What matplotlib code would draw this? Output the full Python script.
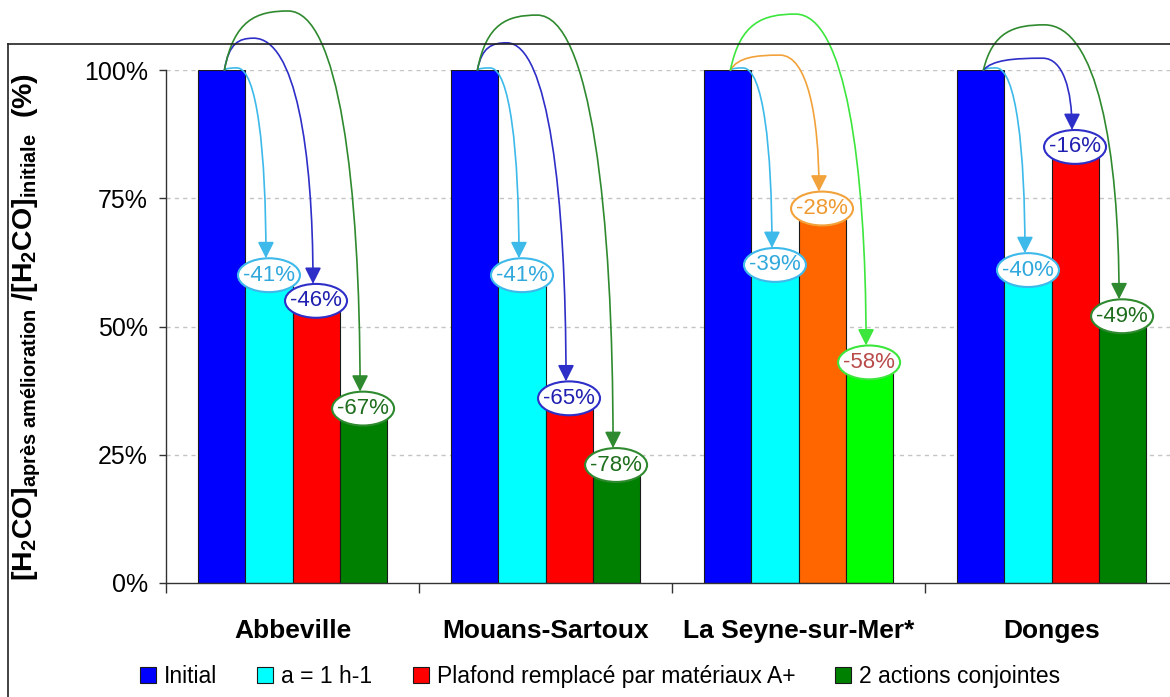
import matplotlib
matplotlib.use("Agg")
import matplotlib.pyplot as plt
from matplotlib.patches import Ellipse, FancyArrowPatch, Patch
from matplotlib.path import Path
from matplotlib.lines import Line2D
import numpy as np

plt.rcParams['font.family'] = ['Liberation Sans', 'DejaVu Sans']
plt.rcParams['mathtext.fontset'] = 'custom'
plt.rcParams['mathtext.rm'] = 'Liberation Sans'
plt.rcParams['mathtext.bf'] = 'Liberation Sans:bold'
plt.rcParams['mathtext.it'] = 'Liberation Sans:italic'

# ---- data -------------------------------------------------------------
sites = ['Abbeville', 'Mouans-Sartoux', 'La Seyne-sur-Mer*', 'Donges']
series_names = ['Initial', 'a = 1 h-1',
                'Plafond remplacé par matériaux A+', '2 actions conjointes']
initial = [100, 100, 100, 100]
change_ventilation = [-41, -41, -39, -40]   # % vs initial
change_plafond = [-46, -65, -28, -16]       # % vs initial
change_combined = [-67, -78, -58, -49]      # % vs initial
y_ticks = [0, 25, 50, 75, 100]
y_tick_labels = ['0%', '25%', '50%', '75%', '100%']

# ---- styling ----------------------------------------------------------
series_colors = ['#0000FF', '#00FFFF', '#FF0000', '#008000']
site_overrides = {2: {2: '#FF6600', 3: '#00FF00'}}   # La Seyne colours

C_CYAN = '#3DB9EA'
C_BLUE = '#2E2EC8'
C_GREEN = '#2F8A2F'
C_LIME = '#3CE63C'
C_ORANGE = '#F2A23A'

# arrow colour, label text colour, ellipse edge colour
annot_style = {
    (0, 1): (C_CYAN, '#30A8DC', C_CYAN), (0, 2): (C_BLUE, '#2020B0', C_BLUE), (0, 3): (C_GREEN, '#1E6E1E', C_GREEN),
    (1, 1): (C_CYAN, '#30A8DC', C_CYAN), (1, 2): (C_BLUE, '#2020B0', C_BLUE), (1, 3): (C_GREEN, '#1E6E1E', C_GREEN),
    (2, 1): (C_CYAN, '#30A8DC', C_CYAN), (2, 2): (C_ORANGE, '#EE9A30', C_ORANGE), (2, 3): (C_LIME, '#B84A4A', C_LIME),
    (3, 1): (C_CYAN, '#30A8DC', C_CYAN), (3, 2): (C_BLUE, '#2020B0', C_BLUE), (3, 3): (C_GREEN, '#1E6E1E', C_GREEN),
}
# arc apex height (axis units) and apex position along the arc
arc_shape = {
    (0, 1): (100.4, 0.30), (0, 2): (106.2, 0.33), (0, 3): (111.5, 0.47),
    (1, 1): (100.4, 0.30), (1, 2): (105.3, 0.33), (1, 3): (110.7, 0.44),
    (2, 1): (100.4, 0.30), (2, 2): (102.9, 0.56), (2, 3): (110.9, 0.48),
    (3, 1): (100.4, 0.30), (3, 2): (102.3, 0.67), (3, 3): (108.8, 0.45),
}

changes = [None, change_ventilation, change_plafond, change_combined]
values = [list(initial)] + [[b + c for b, c in zip(initial, ch)]
                            for ch in changes[1:]]

fig = plt.figure(figsize=(11.70, 6.97), dpi=100)
ax = fig.add_axes([166 / 1170, 1 - 583 / 697, 1012 / 1170, 513 / 697])

x = np.arange(len(sites))
w = 0.186
offsets = [-1.5 * w, -0.5 * w, 0.5 * w, 1.5 * w]

for s in range(4):
    cols = [site_overrides.get(i, {}).get(s, series_colors[s]) for i in range(len(sites))]
    ax.bar(x + offsets[s], values[s], width=w, color=cols,
           edgecolor='#1a1a1a', linewidth=0.8, zorder=2)

ax.set_xlim(-0.5, 3.5)
ax.set_ylim(0, 100)

# grid
for yv in y_ticks[1:]:
    ax.axhline(yv, color='#C4C4C4', lw=1.0, ls=(0, (3, 3)), zorder=0)

ax.set_yticks(y_ticks)
ax.set_yticklabels(y_tick_labels)
ax.tick_params(axis='y', length=5, width=1, pad=8, labelsize=18, color='#333333')

ax.set_xticks([-0.5, 0.5, 1.5, 2.5, 3.5])
ax.set_xticklabels([])
ax.set_xticks(x, minor=True)
ax.set_xticklabels(sites, minor=True, fontsize=19, fontweight='bold')
ax.tick_params(axis='x', which='major', length=7, width=1, color='#333333')
ax.tick_params(axis='x', which='minor', length=0, pad=26)

for side in ['top', 'right']:
    ax.spines[side].set_visible(False)
for side in ['left', 'bottom']:
    ax.spines[side].set_color('#333333')
    ax.spines[side].set_linewidth(1.0)

ax.set_ylabel(r'$\mathbf{[H_2CO]_{après\ amélioration}\ /[H_2CO]_{initiale}\ \ (\%)}$',
              fontsize=20.5)
ax.yaxis.set_label_coords(-0.122, 0.5)

# ---- annotations: arcs from initial bar to ellipse labels ---------------
ell_w, ell_h = 0.245, 6.6


def arc_path(x0, y0, xt, yt, yp, frac):
    xp = x0 + frac * (xt - x0)
    verts = [(x0, y0),
             (x0 + 0.15 * (xp - x0), y0 + 0.85 * (yp - y0)),
             (xp - 0.5 * (xp - x0), yp),
             (xp, yp),
             (xp + 0.7 * (xt - xp), yp),
             (xt, yp - 0.45 * (yp - yt)),
             (xt, yt)]
    codes = [Path.MOVETO] + [Path.CURVE4] * 6
    return Path(verts, codes)


for i in range(len(sites)):
    x0 = x[i] + offsets[0] + 0.01
    for s in (1, 2, 3):
        val = values[s][i]
        pct = changes[s][i]
        arrow_c, text_c, edge_c = annot_style[(i, s)]
        yp, frac = arc_shape[(i, s)]
        cx = x[i] + offsets[s]
        cy = val + 1.0
        xt = cx - 0.012
        yt = cy + ell_h / 2
        arr = FancyArrowPatch(path=arc_path(x0, 100, xt, yt, yp, frac),
                              arrowstyle='-|>,head_length=0.9,head_width=0.45',
                              mutation_scale=11, color=arrow_c, lw=1.2,
                              clip_on=False, zorder=6)
        ax.add_patch(arr)
        ax.add_patch(Ellipse((cx, cy), ell_w, ell_h, facecolor='white',
                             edgecolor=edge_c, lw=1.5, clip_on=False, zorder=7))
        ax.text(cx, cy, f'{pct}%', ha='center', va='center', fontsize=16,
                color=text_c, zorder=8, clip_on=False)

# ---- legend -----------------------------------------------------------
handles = [Patch(facecolor=c, edgecolor='#1a1a1a', lw=0.8) for c in series_colors]
fig.legend(handles, series_names, loc='center', bbox_to_anchor=(0.513, 0.029),
           ncol=4, frameon=False, fontsize=16.5, handlelength=0.7,
           handleheight=0.7, handletextpad=0.35, columnspacing=1.75)

# ---- outer frame --------------------------------------------------------
fy = 1 - 44 / 697
fx = 8 / 1170
fig.add_artist(Line2D([fx, 1.0], [fy, fy], color='#222222', lw=1.2, zorder=1))
fig.add_artist(Line2D([fx, fx], [0.0, fy], color='#222222', lw=1.2, zorder=1))

fig.savefig('out.png', dpi=100)
